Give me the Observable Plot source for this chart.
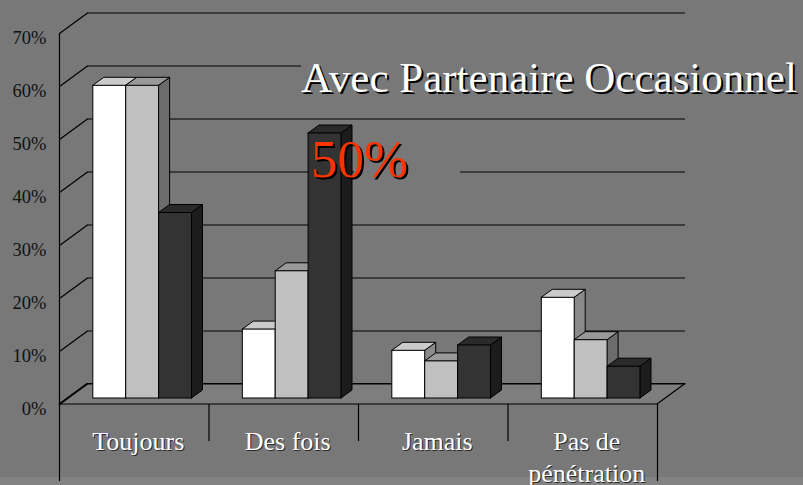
<!DOCTYPE html>
<html><head><meta charset="utf-8">
<script src="https://cdn.jsdelivr.net/npm/d3@7"></script>
<script src="https://cdn.jsdelivr.net/npm/@observablehq/plot@0.6"></script>
<style>
html,body{margin:0;padding:0;background:#787878;}
#wrap{position:relative;width:803px;height:485px;overflow:hidden;background:#787878;}
#strip{position:absolute;left:0;top:477px;width:803px;height:8px;background:#838383;}
#chart{position:absolute;left:0;top:0;}
.note{position:absolute;white-space:nowrap;font-family:"Liberation Serif","Times New Roman",serif;}
#title{left:301px;top:53px;height:50px;line-height:50px;font-size:43px;color:#fff;text-shadow:2px 2px 0 #000;background:#787878;padding-right:8px;}
#mask50{left:354px;top:128px;width:106px;height:56px;background:#787878;}
#big{left:311px;top:129px;line-height:60px;font-size:53px;color:#ff3300;text-shadow:2px 2px 0 #000;}
</style></head>
<body>
<div id="wrap">
  <div id="strip"></div>
  <div id="chart"></div>
  <div id="mask50" class="note"></div>
  <div id="title" class="note">Avec Partenaire Occasionnel</div>
  <div id="big" class="note">50%</div>
</div>
<script>
// ---- data ----
const categories = ["Toujours", "Des fois", "Jamais", "Pas de\npénétration"];
const serieBlanche = [0.59, 0.13, 0.09, 0.19];
const serieGrise   = [0.59, 0.24, 0.07, 0.11];
const serieNoire   = [0.35, 0.50, 0.10, 0.06];
const yTicks = [0, 0.1, 0.2, 0.3, 0.4, 0.5, 0.6, 0.7];
const yTickLabels = ["0%", "10%", "20%", "30%", "40%", "50%", "60%", "70%"];

// ---- styles ----
const faceColors = [
  {front: "#ffffff", top: "#cbcbcb", side: "#8a8a8a"},
  {front: "#c0c0c0", top: "#999999", side: "#6c6c6c"},
  {front: "#333333", top: "#2a2a2a", side: "#1c1c1c"}
];
const W = 803, H = 485, mL = 59, mR = 146, mT = 33, mB = 81;
const xMax = categories.length, yMax = 0.7;
const kx = xMax / (W - mL - mR), ky = yMax / (H - mT - mB); // data units per pixel
const wallDX = 28 * kx, wallDY = 20.5 * ky;   // wall depth
const barDX = 11 * kx, barDY = 8 * ky;        // bar depth
const shiftDX = 8.4, shiftDY = -6;            // bars sit a little back on the floor
const barW = 0.22, barOff = (1 - 3 * barW) / 2;

const series = [serieBlanche, serieGrise, serieNoire];
const bars = [];
categories.forEach((c, i) => series.forEach((vals, s) => {
  const xl = i + barOff + s * barW;
  bars.push({id: i + "-" + s, xl, xr: xl + barW, v: vals[i], ...faceColors[s]});
}));
const sideRows = bars.flatMap(b => [
  {id: b.id, x: b.xr, y1: 0, y2: b.v, fill: b.side},
  {id: b.id, x: b.xr + barDX, y1: barDY, y2: b.v + barDY, fill: b.side}
]);
const topRows = bars.flatMap(b => [
  {id: b.id, y: b.v, x1: b.xl, x2: b.xr, fill: b.top},
  {id: b.id, y: b.v + barDY, x1: b.xl + barDX, x2: b.xr + barDX, fill: b.top}
]);
const floorRows = [
  {y: 0, x1: 0, x2: xMax},
  {y: wallDY, x1: wallDX, x2: xMax + wallDX}
];
const serif = "Liberation Serif";
const lw = 1.2;

const chart = Plot.plot({
  width: W, height: H,
  marginLeft: mL, marginRight: mR, marginTop: mT, marginBottom: mB,
  x: {domain: [0, xMax], label: null},
  y: {domain: [0, yMax], label: null, axis: null},
  color: {type: "identity"},
  style: {background: "transparent", overflow: "visible", fontFamily: serif},
  marks: [
    // floor
    Plot.areaX(floorRows, {y: "y", x1: "x1", x2: "x2", fill: "#7e7e7e", stroke: "black", strokeWidth: lw}),
    // side-wall gridlines
    Plot.link(yTicks, {x1: 0, y1: d => d, x2: wallDX, y2: d => d + wallDY, stroke: "black", strokeWidth: lw}),
    // back-wall gridlines
    Plot.ruleY(yTicks, {y: d => d + wallDY, x1: wallDX, x2: xMax + wallDX, stroke: "black", strokeWidth: lw}),
    // value axis line
    Plot.ruleX([0], {y1: 0, y2: yMax, stroke: "black", strokeWidth: lw}),
    // category dividers
    Plot.axisX([1, 2, 3], {tickSize: 37, tickFormat: () => "", stroke: "black", strokeWidth: lw}),
    Plot.axisX([0, xMax], {tickSize: 77, tickFormat: () => "", stroke: "black", strokeWidth: lw}),
    // bars: sides, tops, fronts
    Plot.areaY(sideRows, {x: "x", y1: "y1", y2: "y2", z: "id", fill: "fill", stroke: "black", strokeWidth: 1, dx: shiftDX, dy: shiftDY}),
    Plot.areaX(topRows, {y: "y", x1: "x1", x2: "x2", z: "id", fill: "fill", stroke: "black", strokeWidth: 1, dx: shiftDX, dy: shiftDY}),
    Plot.rect(bars, {x1: "xl", x2: "xr", y1: 0, y2: "v", fill: "front", stroke: "black", strokeWidth: 1, dx: shiftDX, dy: shiftDY}),
    // value labels
    Plot.text(yTicks, {y: d => d, text: (d, i) => yTickLabels[i], frameAnchor: "left", textAnchor: "end",
      dx: -13, dy: 5, fontSize: 18.5, fontFamily: serif, fill: "#111"}),
    // category labels (shadow + text)
    Plot.text(categories, {x: (d, i) => i + 0.5, text: d => d, frameAnchor: "bottom", lineAnchor: "top",
      dx: 5, dy: 24, fontSize: 26, fontFamily: serif, lineHeight: 1.22, fill: "#2a2a2a"}),
    Plot.text(categories, {x: (d, i) => i + 0.5, text: d => d, frameAnchor: "bottom", lineAnchor: "top",
      dx: 4, dy: 23, fontSize: 26, fontFamily: serif, lineHeight: 1.22, fill: "white"})
  ]
});
document.getElementById("chart").appendChild(chart);
</script>
</body></html>
